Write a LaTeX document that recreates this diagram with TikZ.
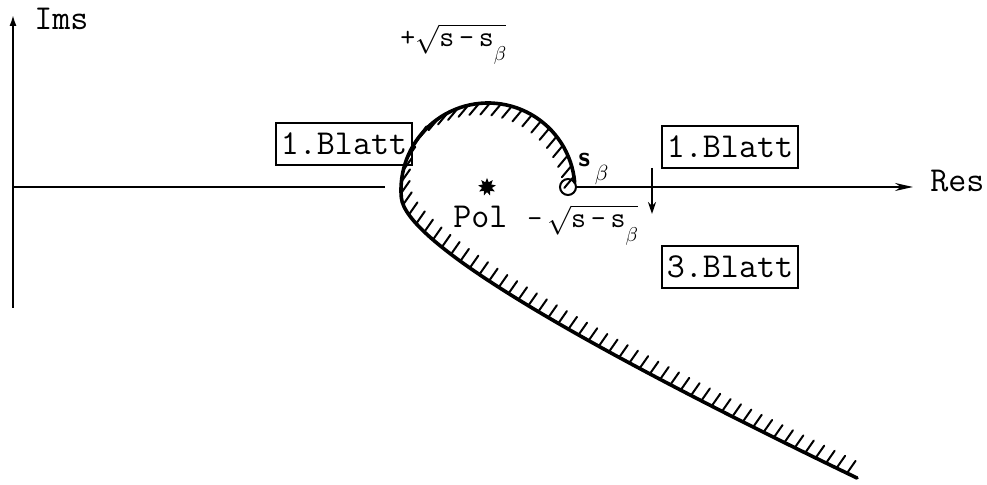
\documentclass[tikz,border=0pt]{standalone}
\usetikzlibrary{arrows.meta,shapes.geometric,decorations.markings}
\newcommand\rootsb{\sqrt{\mbox{\ttfamily s\,-\,s}\smash{\raisebox{-7pt}{$\scriptstyle\beta$}}}}
\begin{document}
\begin{tikzpicture}[x=0.5pt,y=-0.5pt,
  lbl/.style={font=\fontsize{17.5}{20}\selectfont\ttfamily, inner sep=0pt},
  rootlbl/.style={font=\fontsize{14.5}{16}\selectfont\ttfamily, inner sep=0pt},
  blatt/.style={draw, line width=0.8pt, minimum width=68pt, minimum height=21pt, inner sep=0pt,
    font=\fontsize{17.5}{20}\selectfont\ttfamily},
  axis/.style={line width=1pt},
  bound/.style={line width=1.8pt, line cap=round, line join=round},
  hatchA/.style={postaction={decorate}, decoration={markings,
    mark=between positions 3pt and -2pt step 5.5pt with {\pgftransformresetnontranslations
      \draw[line width=1pt] (0,0) -- ++(230:7.5pt);}}},
  hatchB/.style={postaction={decorate}, decoration={markings,
    mark=between positions 3pt and -1pt step 5.8pt with {\pgftransformresetnontranslations
      \draw[line width=1pt] (0,0) -- ++(55:7.5pt);}}},
]
\useasboundingbox (0,0) rectangle (987,485);

% axes
\coordinate (o) at (13,187);
\coordinate (ytop) at (13,14);
\coordinate (ybot) at (13,308);
\coordinate (xl) at (385,187);
\coordinate (xr) at (913,187);
\node[circle, draw, line width=1pt, minimum size=8pt, inner sep=0pt] (sb) at (568,187) {};
\draw[line width=1.3pt, -{Latex[length=6pt,width=3.5pt]}] (ybot) -- (ytop);
\draw[axis] (o) -- (xl);
\draw[axis, -{Stealth[length=9pt,width=4pt]}] (sb.east) -- (xr);

% labels
\node[lbl, anchor=base west] (ims) at (34,30) {Ims};
\node[lbl, anchor=base west] (res) at (930,192) {Res};
\node[lbl, anchor=base west] (pollbl) at (453,228) {Pol};
\node[rootlbl, anchor=base west] (rootm) at (527,228) {-\,$\rootsb$};
\node[rootlbl, anchor=base west] (rootp) at (400,47) {+$\rootsb$};
\node[anchor=base west, inner sep=0pt, font=\fontsize{14}{16}\selectfont\sffamily\bfseries] (sbl) at (578,167)
  {s\,\raisebox{-7pt}{\fontsize{11}{12}\selectfont$\beta$}};

% sheets
\node[blatt] (b1l) at (344,144) {1.Blatt};
\node[blatt] (b1r) at (730,147) {1.Blatt};
\node[blatt] (b3) at (730,267) {3.Blatt};

% pole
\node[star, star points=9, star point ratio=1.8, fill, inner sep=0pt, minimum size=9pt] (pol) at (487,187) {};

% down arrow
\coordinate (d1) at (652,168);
\coordinate (d2) at (652,214);
\draw[line width=0.9pt, -{Stealth[length=6pt,width=4pt]}] (d1) -- (d2);

% hatched boundary curve
\draw[bound, hatchA] plot[domain=5:140, samples=40] ({488+87*cos(\x)},{190-87*sin(\x)});
\draw[bound, hatchB] plot[domain=140:185, samples=15] ({488+87*cos(\x)},{190-87*sin(\x)})
  .. controls (405,240) and (560,335) .. (857,478);
\end{tikzpicture}
\end{document}
